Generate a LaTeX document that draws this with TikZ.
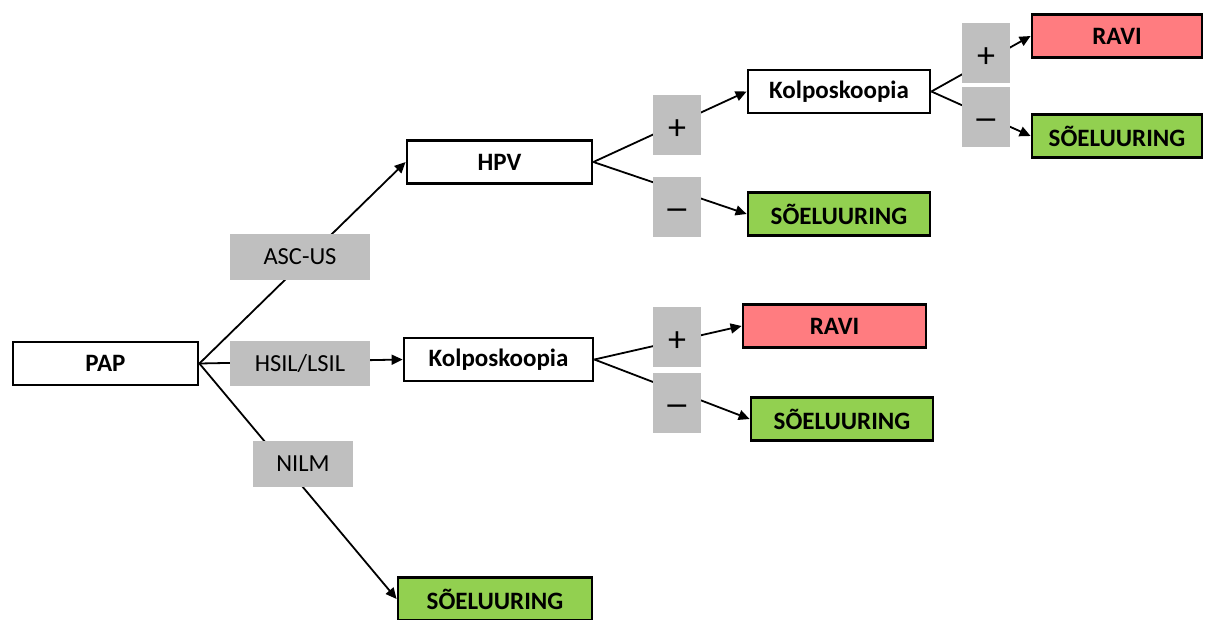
\documentclass[tikz,border=0pt]{standalone}
\usepackage{fontspec}
\setmainfont{Carlito}
\usetikzlibrary{arrows.meta}
\definecolor{ravired}{HTML}{FF7C80}
\definecolor{screengreen}{HTML}{92D050}
\definecolor{labelgray}{HTML}{BFBFBF}
% a wider minus sign, as wide as the plus sign
\newcommand{\widemin}{\scalebox{1.4}[1]{−}}
\begin{document}
\begin{tikzpicture}[x=1pt,y=-1pt,
  box/.style={draw=black,line width=2.8pt,fill=white,minimum height=43pt,
    inner sep=0pt,font=\fontsize{25}{28}\selectfont\bfseries},
  redbox/.style={box,fill=ravired},
  greenbox/.style={box,fill=screengreen},
  tag/.style={fill=labelgray,inner sep=0pt,minimum height=46pt,
    font=\fontsize{24.5}{28}\selectfont},
  sign/.style={tag,minimum width=48pt,minimum height=60pt,
    text height=33pt,text depth=4pt,
    font=\fontsize{36}{38}\selectfont},
  link/.style={line width=1.8pt,-{Triangle[length=11pt,width=10pt]}}
]
\useasboundingbox (0,0) rectangle (1205,619);

% decision boxes
\node[box,minimum width=185pt] (pap) at (105.5,363.5) {PAP};
\node[box,minimum width=185pt] (hpv) at (499.5,162) {HPV};
\node[box,minimum width=182pt] (kolpoA) at (839,91.5) {Kolposkoopia};
\node[greenbox,minimum width=182pt] (soelA) at (839,214) {SÕELUURING};
\node[redbox,minimum width=170pt] (raviA) at (1117,36) {RAVI};
\node[greenbox,minimum width=170pt] (soelB) at (1117,136) {SÕELUURING};
\node[box,minimum width=189pt] (kolpoB) at (498.5,359.5) {Kolposkoopia};
\node[redbox,minimum width=183pt] (raviB) at (834.5,326) {RAVI};
\node[greenbox,minimum width=182pt] (soelC) at (842,419) {SÕELUURING};
\node[greenbox,minimum width=194pt] (soelD) at (495,599) {SÕELUURING};

% connectors
\draw[link] (pap.east) -- (hpv.west);
\draw[link] (pap.east) -- (kolpoB.west);
\draw[link] (pap.east) -- (soelD.west);
\draw[link] (hpv.east) -- (kolpoA.west);
\draw[link] (hpv.east) -- (soelA.west);
\draw[link] (kolpoA.east) -- (raviA.west);
\draw[link] (kolpoA.east) -- (soelB.west);
\draw[link] (kolpoB.east) -- (raviB.west);
\draw[link] (kolpoB.east) -- (soelC.west);

% result labels laid over the connectors
\node[tag,minimum width=140pt] (asc) at (300,257) {ASC-US};
\node[tag,minimum width=140pt,minimum height=45pt] (hsil) at (300,363.5) {HSIL/LSIL};
\node[tag,minimum width=100pt] (nilm) at (303,464) {NILM};
\node[sign] (plusA) at (677,124.5) {+};
\node[sign] (minusA) at (677,207) {\widemin};
\node[sign] (plusB) at (986,53) {+};
\node[sign] (minusB) at (986,116.5) {\widemin};
\node[sign] (plusC) at (677,337) {+};
\node[sign] (minusC) at (677,402.5) {\widemin};
\end{tikzpicture}
\end{document}
